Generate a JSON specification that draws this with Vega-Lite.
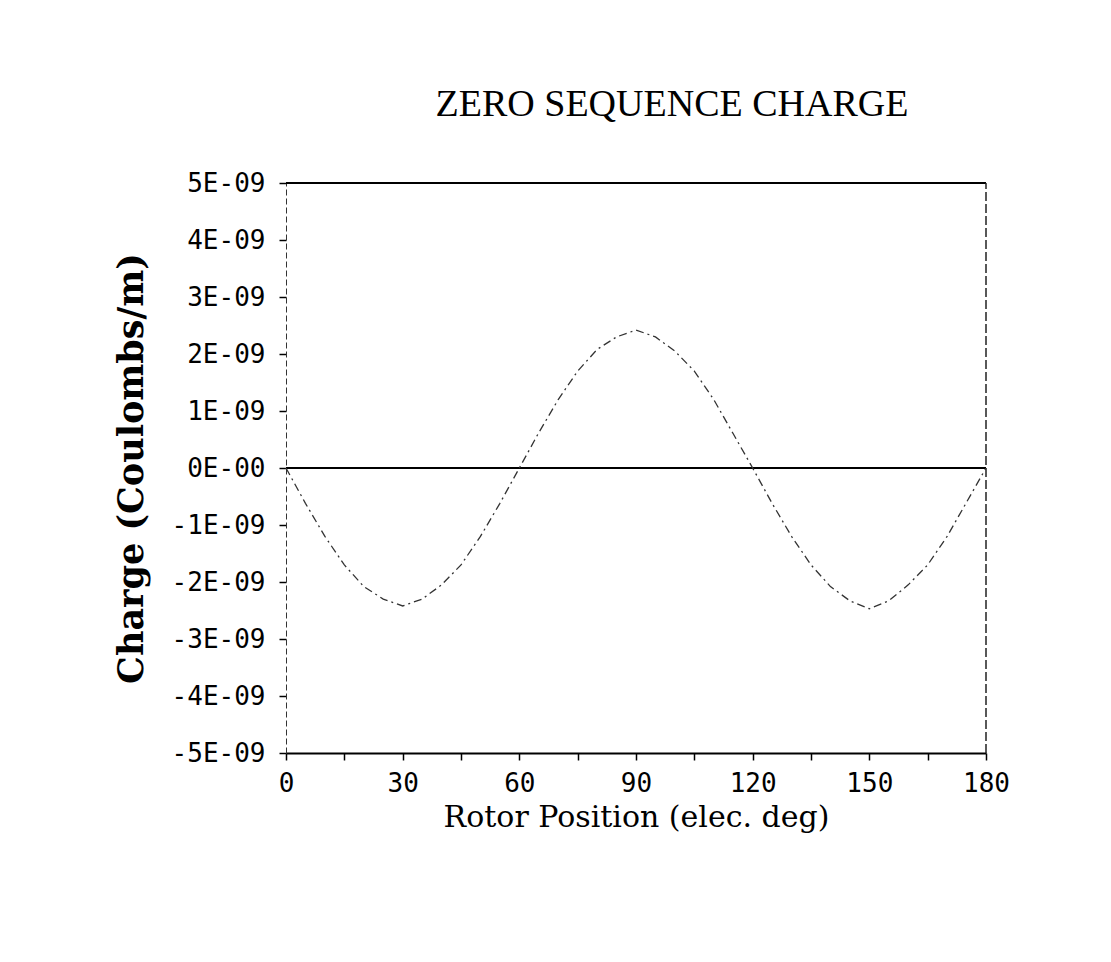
{
  "$schema": "https://vega.github.io/schema/vega-lite/v6.json",
  "width": 700,
  "height": 570,
  "autosize": "none",
  "padding": {"left": 286, "top": 183, "right": 125, "bottom": 209},
  "background": "white",
  "config": {
    "view": {"stroke": null},
    "font": "DejaVu Sans Mono"
  },
  "title": {
    "text": "ZERO SEQUENCE CHARGE",
    "font": "Liberation Serif",
    "fontSize": 38,
    "fontWeight": "normal",
    "color": "black",
    "anchor": "middle",
    "baseline": "alphabetic",
    "offset": 16,
    "dx": 36
  },
  "datasets": {
    "curve": [
      {"deg": 0, "q": 0},
      {"deg": 5, "q": -6.2e-10},
      {"deg": 10, "q": -1.2e-9},
      {"deg": 15, "q": -1.7e-9},
      {"deg": 20, "q": -2.08e-9},
      {"deg": 25, "q": -2.3e-9},
      {"deg": 30, "q": -2.42e-9},
      {"deg": 35, "q": -2.3e-9},
      {"deg": 40, "q": -2.05e-9},
      {"deg": 45, "q": -1.7e-9},
      {"deg": 50, "q": -1.2e-9},
      {"deg": 55, "q": -6.2e-10},
      {"deg": 60, "q": 0},
      {"deg": 65, "q": 6.2e-10},
      {"deg": 70, "q": 1.2e-9},
      {"deg": 75, "q": 1.7e-9},
      {"deg": 80, "q": 2.08e-9},
      {"deg": 85, "q": 2.3e-9},
      {"deg": 90, "q": 2.42e-9},
      {"deg": 95, "q": 2.3e-9},
      {"deg": 100, "q": 2.05e-9},
      {"deg": 105, "q": 1.7e-9},
      {"deg": 110, "q": 1.2e-9},
      {"deg": 115, "q": 6e-10},
      {"deg": 120, "q": 0},
      {"deg": 125, "q": -6.2e-10},
      {"deg": 130, "q": -1.2e-9},
      {"deg": 135, "q": -1.7e-9},
      {"deg": 140, "q": -2.08e-9},
      {"deg": 145, "q": -2.33e-9},
      {"deg": 150, "q": -2.47e-9},
      {"deg": 155, "q": -2.33e-9},
      {"deg": 160, "q": -2.05e-9},
      {"deg": 165, "q": -1.7e-9},
      {"deg": 170, "q": -1.2e-9},
      {"deg": 175, "q": -6e-10},
      {"deg": 180, "q": 0}
    ],
    "hlines": [
      {"x0": 0, "x1": 180, "yv": 5e-9},
      {"x0": 0, "x1": 180, "yv": 0}
    ],
    "vlines": [
      {"xv": 180, "y0": -5e-9, "y1": 5e-9}
    ]
  },
  "layer": [
    {
      "data": {"name": "hlines"},
      "mark": {"type": "rule", "color": "black", "strokeWidth": 2},
      "encoding": {
        "x": {"field": "x0", "type": "quantitative", "scale": {"domain": [0, 180], "nice": false, "zero": false}},
        "x2": {"field": "x1"},
        "y": {"field": "yv", "type": "quantitative", "scale": {"domain": [-5e-9, 5e-9], "nice": false}}
      }
    },
    {
      "data": {"name": "vlines"},
      "mark": {"type": "rule", "color": "#222", "strokeWidth": 1.5, "strokeDash": [9, 3]},
      "encoding": {
        "x": {"field": "xv", "type": "quantitative"},
        "y": {"field": "y0", "type": "quantitative"},
        "y2": {"field": "y1"}
      }
    },
    {
      "data": {"name": "curve"},
      "mark": {"type": "line", "color": "#333", "strokeWidth": 1.3, "strokeDash": [8, 4, 2, 4]},
      "encoding": {
        "x": {
          "field": "deg",
          "type": "quantitative",
          "scale": {"domain": [0, 180], "nice": false, "zero": false},
          "axis": {
            "values": [0, 15, 30, 45, 60, 75, 90, 105, 120, 135, 150, 165, 180],
            "labelExpr": "datum.value % 30 == 0 ? datum.value : ''",
            "title": "Rotor Position (elec. deg)",
            "titleFont": "DejaVu Serif",
            "titleFontSize": 30,
            "titleFontWeight": "normal",
            "titleColor": "black",
            "titlePadding": 6,
            "labelFont": "DejaVu Sans Mono",
            "labelFontSize": 26,
            "labelColor": "black",
            "labelPadding": 10,
            "labelFlush": false,
            "labelOverlap": false,
            "tickColor": "black",
            "tickSize": 7,
            "tickWidth": 1.5,
            "domainColor": "black",
            "domainWidth": 2,
            "grid": false
          }
        },
        "y": {
          "field": "q",
          "type": "quantitative",
          "scale": {"domain": [-5e-9, 5e-9], "nice": false},
          "axis": {
            "values": [-5e-9, -4.5e-9, -4e-9, -3.5e-9, -3e-9, -2.5e-9, -2e-9, -1.5e-9, -1e-9, -5e-10, 0, 5e-10, 1e-9, 1.5e-9, 2e-9, 2.5e-9, 3e-9, 3.5e-9, 4e-9, 4.5e-9, 5e-9],
            "labelExpr": "abs(round(datum.value*2e9)) % 2 == 1 ? '' : (round(datum.value*1e9) == 0 ? '0E-00' : round(datum.value*1e9) + 'E-09')",
            "title": "Charge (Coulombs/m)",
            "titleFont": "DejaVu Serif",
            "titleFontSize": 35,
            "titleFontWeight": "bold",
            "titleColor": "black",
            "titlePadding": 22,
            "labelFont": "DejaVu Sans Mono",
            "labelFontSize": 26,
            "labelColor": "black",
            "labelPadding": 14,
            "labelFlush": false,
            "labelOverlap": false,
            "tickColor": "black",
            "tickSize": 7,
            "tickWidth": 1.5,
            "domainColor": "#333",
            "domainWidth": 1,
            "domainDash": [6, 3],
            "grid": false
          }
        }
      }
    }
  ]
}
